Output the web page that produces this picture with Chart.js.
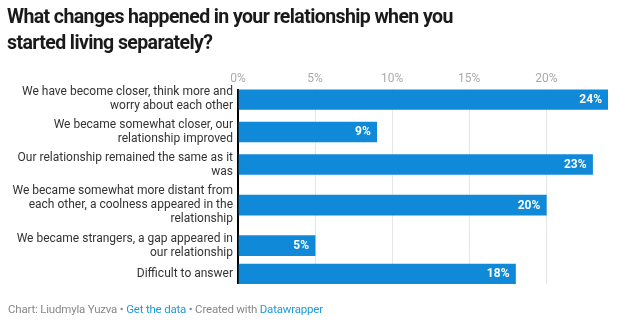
<!DOCTYPE html>
<html lang="en">
<head>
  <meta charset="UTF-8" />
  <title>Relationship changes</title>
  <script src="https://cdn.jsdelivr.net/npm/chart.js"></script>
  <style>
    body { margin: 0; background: #fff; font-family: Roboto, sans-serif; }
    .wrap { position: relative; width: 630px; height: 327px; overflow: hidden; }
    #chart { position: absolute; left: 0; top: 0; }
    .title {
      position: absolute; left: 7px; top: 4px; width: 540px;
      font-size: 19.5px; font-weight: 700; line-height: 25.5px; color: #1a1a1a;
      letter-spacing: -0.6px;
    }
    .footer {
      position: absolute; left: 8px; top: 302px;
      font-size: 11.5px; color: #888; letter-spacing: -0.2px;
    }
    .footer a { color: #1d9bd7; text-decoration: none; }
  </style>
</head>
<body>
<div class="wrap">
  <canvas id="chart" width="630" height="327"></canvas>
  <div class="title">What changes happened in your relationship when you<br>started living separately?</div>
  <div class="footer">Chart: Liudmyla Yuzva • <a href="#">Get the data</a> • Created with <a href="#">Datawrapper</a></div>
</div>

<script>
  const answers = [
    ["We have become closer, think more and", "worry about each other"],
    ["We became somewhat closer, our", "relationship improved"],
    ["Our relationship remained the same as it", "was"],
    ["We became somewhat more distant from", "each other, a coolness appeared in the", "relationship"],
    ["We became strangers, a gap appeared in", "our relationship"],
    ["Difficult to answer"]
  ];
  const shares = [24, 9, 23, 20, 5, 18];
  const tickValues = [0, 5, 10, 15, 20];

  // rows grow with the number of label lines, like the original layout
  const lineStep = 16;
  const barSize = 20;
  const rowHeight = lines => Math.max(lines * lineStep + 0.5, barSize + 4);
  const rowCenters = [];
  let acc = 0;
  answers.forEach(a => {
    const h = rowHeight(a.length);
    rowCenters.push(acc + h / 2);
    acc += h;
  });

  const labelPlugin = {
    id: 'rowLabels',
    afterDatasetsDraw(chart) {
      const { ctx, scales: { x, y } } = chart;
      ctx.save();
      // category labels on the left
      ctx.font = '12px Roboto, sans-serif';
      ctx.fillStyle = '#333';
      ctx.textAlign = 'right';
      ctx.textBaseline = 'middle';
      answers.forEach((lines, i) => {
        const cy = y.getPixelForValue(rowCenters[i]);
        const lh = 14;
        const top = cy - (lines.length - 1) * lh / 2;
        lines.forEach((t, j) => ctx.fillText(t, x.left - 5, top + j * lh));
      });
      // values inside the bar ends
      ctx.font = 'bold 12px Roboto, sans-serif';
      ctx.fillStyle = '#fff';
      shares.forEach((v, i) => {
        ctx.fillText(v + '%', x.getPixelForValue(v) - 6, y.getPixelForValue(rowCenters[i]) + 0.5);
      });
      ctx.restore();
    }
  };

  new Chart(document.getElementById('chart'), {
    type: 'bar',
    data: {
      datasets: [{
        data: shares.map((v, i) => ({ x: v, y: rowCenters[i] })),
        backgroundColor: '#0f89d8',
        barThickness: barSize
      }]
    },
    options: {
      indexAxis: 'y',
      responsive: false,
      animation: false,
      layout: { padding: { left: 238, right: 22, top: 69, bottom: 43 } },
      plugins: { legend: { display: false }, tooltip: { enabled: false } },
      scales: {
        x: {
          type: 'linear',
          position: 'top',
          min: 0,
          max: 24,
          afterBuildTicks: scale => { scale.ticks = tickValues.map(v => ({ value: v })); },
          ticks: {
            padding: 3,
            color: '#aaa',
            font: { family: 'Roboto', size: 12 },
            callback: v => v + '%'
          },
          grid: {
            drawTicks: false,
            color: c => c.tick && c.tick.value === 0 ? '#000' : '#e6e6e6',
            lineWidth: c => c.tick && c.tick.value === 0 ? 2 : 1
          },
          border: { display: false }
        },
        y: {
          type: 'linear',
          reverse: true,
          display: false,
          offset: false,
          min: rowCenters[0] - barSize / 2,
          max: rowCenters[rowCenters.length - 1] + barSize / 2
        }
      }
    },
    plugins: [labelPlugin]
  });
</script>
</body>
</html>
